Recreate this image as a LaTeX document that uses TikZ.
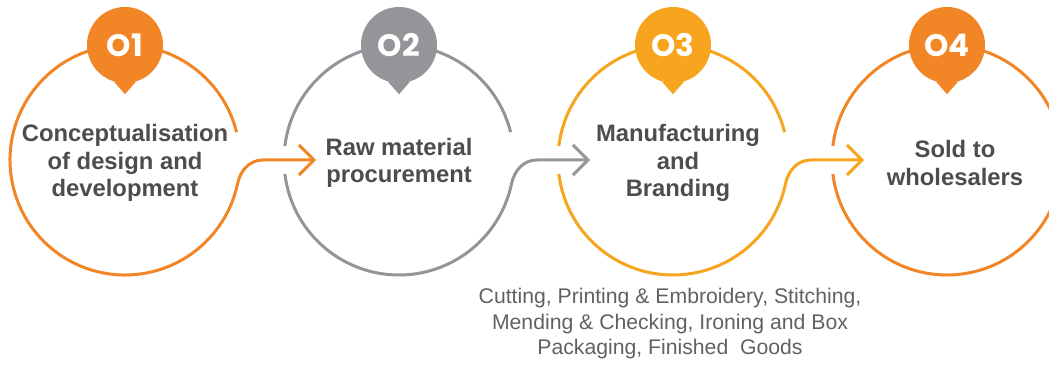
\documentclass[tikz,border=0pt]{standalone}
\usepackage{fontspec}
\setmainfont{Liberation Sans}
\newfontfamily\badgefont{Poppins}
\usetikzlibrary{arrows.meta, positioning}

\definecolor{stageorange}{HTML}{F28526}
\definecolor{stagegrey}{HTML}{939598}
\definecolor{stageyellow}{HTML}{F7A51E}
\definecolor{labelgrey}{HTML}{4D4D4F}
\definecolor{notegrey}{HTML}{606163}

\tikzset{
  stage/.style={circle, minimum size=230pt, inner sep=0pt, outer sep=0pt},
  stagetext/.style={text=labelgrey, align=center, yshift=-3pt, font=\bfseries\fontsize{23.8}{27.5}\selectfont},
  badge/.style={circle, fill=#1, minimum size=76pt, inner sep=0pt, text=white,
    font=\badgefont\bfseries\fontsize{31}{31}\selectfont},
  ring/.style={line width=3pt, draw=#1},
  flow/.style={-{Straight Barb[length=15pt, width=30pt]}},
  note/.style={text=notegrey, align=center, font=\fontsize{21.2}{25.5}\selectfont},
}

\begin{document}
\begin{tikzpicture}[x=1pt, y=1pt]
    \useasboundingbox (0,0) rectangle (1049,364);

    % stages %
      \node[stage] (c1) at (125,204) {};
      \node[stage, right of = c1, node distance=274pt] (c2) {};
      \node[stage, right of = c2, node distance=274pt] (c3) {};
      \node[stage, right of = c3, node distance=274pt] (c4) {};

      % arrow ends inside the next ring %
      \coordinate (tip2) at ([xshift=-83pt]c2.center);
      \coordinate (tip3) at ([xshift=-83pt]c3.center);
      \coordinate (tip4) at ([xshift=-83pt]c4.center);

      % rings and links %
      \draw[ring=stageorange, flow] (c1.14) arc[start angle=14, end angle=348, radius=115pt]
        to[out=78, in=180] ([xshift=-53pt]tip2) -- (tip2);
      \draw[ring=stagegrey] (c2.14) arc[start angle=14, end angle=173, radius=115pt];
      \draw[ring=stagegrey, flow] (c2.187) arc[start angle=187, end angle=348, radius=115pt]
        to[out=78, in=180] ([xshift=-53pt]tip3) -- (tip3);
      \draw[ring=stageyellow] (c3.14) arc[start angle=14, end angle=173, radius=115pt];
      \draw[ring=stageyellow, flow] (c3.187) arc[start angle=187, end angle=348, radius=115pt]
        to[out=78, in=180] ([xshift=-53pt]tip4) -- (tip4);
      \draw[ring=stageorange] (c4.187) arc[start angle=187, end angle=533, radius=115pt];

      % badges %
      \node[badge=stageorange] (b1) at (c1.north) {O1};
      \node[badge=stagegrey] (b2) at (c2.north) {O2};
      \node[badge=stageyellow] (b3) at (c3.north) {O3};
      \node[badge=stageorange] (b4) at (c4.north) {O4};
      \fill[stageorange] (b1.-107) -- ([yshift=-11pt]b1.south) -- (b1.-73) -- cycle;
      \fill[stagegrey] (b2.-107) -- ([yshift=-11pt]b2.south) -- (b2.-73) -- cycle;
      \fill[stageyellow] (b3.-107) -- ([yshift=-11pt]b3.south) -- (b3.-73) -- cycle;
      \fill[stageorange] (b4.-107) -- ([yshift=-11pt]b4.south) -- (b4.-73) -- cycle;

      % labels %
      \node[stagetext] (t1) at (c1) {Conceptualisation\\of design and\\development};
      \node[stagetext] (t2) at (c2) {Raw material\\procurement};
      \node[stagetext, xshift=5pt] (t3) at (c3) {Manufacturing\\and\\Branding};
      \node[stagetext, xshift=8pt] (t4) at (c4) {Sold to\\wholesalers};
      \node[note, below of = c3, node distance=164pt, xshift=-3pt] (n3)
        {Cutting, Printing \& Embroidery, Stitching,\\Mending \& Checking, Ironing and Box\\Packaging, Finished\ \ Goods};
\end{tikzpicture}
\end{document}
